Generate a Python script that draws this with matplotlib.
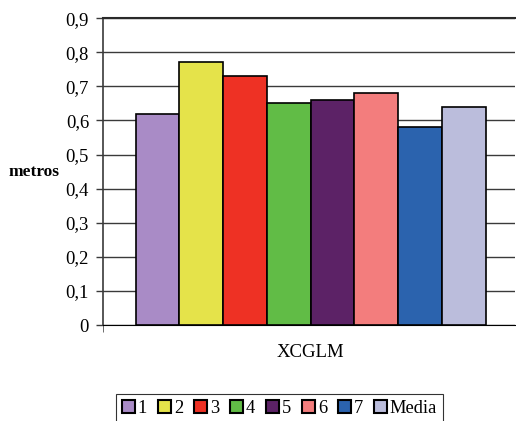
import matplotlib.pyplot as plt
import numpy as np

plt.rcParams['font.family'] = ['Liberation Serif', 'DejaVu Serif']

series = ["1", "2", "3", "4", "5", "6", "7", "Media"]
values = [0.62, 0.77, 0.73, 0.65, 0.66, 0.68, 0.58, 0.64]
colors = ["#A98BC6", "#E5E34A", "#EE3124", "#61BC46",
          "#5C2266", "#F37D7D", "#2B63AE", "#BBBDDC"]
category = "XCGLM"
yticks = np.arange(0, 0.91, 0.1)


def draw_chart(out_file):
    fig = plt.figure(figsize=(5.16, 4.21), dpi=100)
    ax = fig.add_axes([0.1996, 0.228, 0.7984, 0.729])

    pos = np.arange(len(values))
    for i in range(len(values)):
        ax.bar(pos[i], values[i], width=1.0, color=colors[i],
               edgecolor="black", linewidth=1.2, label=series[i], zorder=3)

    ax.set_xlim(-1.247, 8.17)
    ax.set_ylim(0, 0.9)
    ax.set_yticks(yticks)
    ax.set_yticklabels(["0" if i == 0 else "0,%d" % i for i in range(len(yticks))],
                       fontsize=13.5)
    ax.yaxis.grid(True, color="#3a3a3a", linewidth=1.0, zorder=0)

    ax.set_xticks([3.5])
    ax.set_xticklabels([category], fontsize=13.5)
    ax.tick_params(axis="x", length=0, pad=14)
    ax.set_xticks([-1.247], minor=True)
    ax.tick_params(axis="x", which="minor", length=5, color="#555555")
    ax.tick_params(axis="y", length=5, width=1.0, direction="out", pad=5,
                   color="#3a3a3a")

    ax.spines["right"].set_visible(False)
    ax.spines["top"].set_color("#2a2a2a")
    ax.spines["top"].set_linewidth(1.5)
    ax.spines["left"].set_color("#3a3a3a")
    ax.spines["left"].set_linewidth(1.2)
    ax.spines["bottom"].set_color("black")

    fig.text(0.016, 0.591, "metros", fontsize=12.5, fontweight="bold",
             ha="left", va="center")

    leg = fig.legend(loc="upper center", bbox_to_anchor=(0.5417, 0.064), ncol=8,
                     fontsize=13.3, frameon=True, fancybox=False,
                     handlelength=0.7, handleheight=0.7, handletextpad=0.15,
                     columnspacing=0.6, borderpad=0.3, borderaxespad=0)
    leg.get_frame().set_edgecolor("black")
    leg.get_frame().set_linewidth(0.8)
    for h in leg.legend_handles:
        h.set_linewidth(1.5)

    fig.savefig(out_file)
    plt.close(fig)


if __name__ == "__main__":
    draw_chart("out.png")
